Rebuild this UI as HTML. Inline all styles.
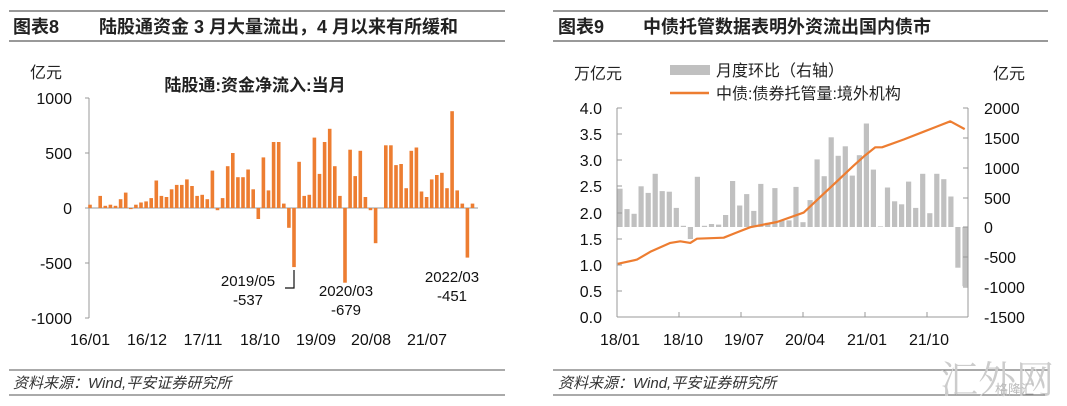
<!DOCTYPE html>
<html><head><meta charset="utf-8"><style>
body{margin:0;background:#fff;width:1067px;height:406px;overflow:hidden}
svg{display:block;font-family:"Liberation Sans","Noto Sans CJK SC",sans-serif}
</style></head><body>
<svg id="s" width="1067" height="406" viewBox="0 0 1067 406">
<!-- Left header -->
<line x1="9" y1="11" x2="505" y2="11" stroke="#333" stroke-width="1"/>
<line x1="9" y1="41" x2="505" y2="41" stroke="#333" stroke-width="1"/>
<text x="13" y="33" font-size="18" font-weight="bold" fill="#222">图表8</text>
<text x="99" y="33" font-size="18" font-weight="bold" fill="#222">陆股通资金 3 月大量流出，4 月以来有所缓和</text>
<line x1="9" y1="370" x2="505" y2="370" stroke="#555" stroke-width="1"/>
<line x1="9" y1="395" x2="505" y2="395" stroke="#555" stroke-width="1"/>
<text x="13" y="388" font-size="15" font-style="italic" fill="#333">资料来源：Wind,平安证券研究所</text>
<!-- Right header -->
<line x1="553" y1="11" x2="1048" y2="11" stroke="#333" stroke-width="1"/>
<line x1="553" y1="41" x2="1048" y2="41" stroke="#333" stroke-width="1"/>
<text x="558" y="33" font-size="18" font-weight="bold" fill="#222">图表9</text>
<text x="643" y="33" font-size="18" font-weight="bold" fill="#222">中债托管数据表明外资流出国内债市</text>
<line x1="553" y1="370" x2="1048" y2="370" stroke="#555" stroke-width="1"/>
<line x1="553" y1="395" x2="1048" y2="395" stroke="#555" stroke-width="1"/>
<text x="558" y="388" font-size="15" font-style="italic" fill="#333">资料来源：Wind,平安证券研究所</text>
<text x="940" y="393" font-size="38" fill="#ccc" font-family="Liberation Serif, Noto Serif CJK SC, serif">汇外网</text>
<text x="995" y="394" font-size="13" fill="#bbb">格隆汇</text>

<!-- Left chart -->
<text x="30" y="78" font-size="16" fill="#222">亿元</text>
<text x="255" y="91" font-size="17" font-weight="bold" fill="#222" text-anchor="middle">陆股通:资金净流入:当月</text>
<g font-size="16" fill="#111" text-anchor="end">
<text x="72" y="104">1000</text><text x="72" y="159">500</text><text x="72" y="214">0</text><text x="72" y="269">-500</text><text x="72" y="324">-1000</text></g>
<line x1="89" y1="98" x2="89" y2="318" stroke="#999"/>
<g stroke="#999"><line x1="85" y1="98" x2="89" y2="98"/><line x1="85" y1="153" x2="89" y2="153"/><line x1="85" y1="208" x2="89" y2="208"/><line x1="85" y1="263" x2="89" y2="263"/><line x1="85" y1="318" x2="89" y2="318"/></g>
<line x1="89" y1="208" x2="478" y2="208" stroke="#999"/>
<g id="lb" fill="#ED7D31"></g>
<g font-size="16" fill="#111" text-anchor="middle">
<text x="90" y="345">16/01</text><text x="147" y="345">16/12</text><text x="203" y="345">17/11</text><text x="260" y="345">18/10</text><text x="316" y="345">19/09</text><text x="371" y="345">20/08</text><text x="427" y="345">21/07</text></g>
<g font-size="15" fill="#111" text-anchor="middle">
<text x="248" y="286">2019/05</text><text x="248" y="305">-537</text>
<text x="346" y="296">2020/03</text><text x="346" y="315">-679</text>
<text x="452" y="282">2022/03</text><text x="452" y="301">-451</text></g>
<polyline points="294,270 294,288 285,288" fill="none" stroke="#111" stroke-width="1.2"/>

<!-- Right chart -->
<text x="574" y="79" font-size="16" fill="#222">万亿元</text>
<text x="993" y="79" font-size="16" fill="#222">亿元</text>
<rect x="670" y="65" width="40" height="10" fill="#c0c0c0"/>
<text x="716" y="76" font-size="16" fill="#222">月度环比（右轴）</text>
<line x1="670" y1="93" x2="709" y2="93" stroke="#ED7D31" stroke-width="2.5"/>
<text x="716" y="99" font-size="16" fill="#222">中债:债券托管量:境外机构</text>
<g font-size="16" fill="#111" text-anchor="end">
<text x="602" y="114">4.0</text><text x="602" y="140">3.5</text><text x="602" y="166">3.0</text><text x="602" y="192">2.5</text><text x="602" y="219">2.0</text><text x="602" y="245">1.5</text><text x="602" y="271">1.0</text><text x="602" y="297">0.5</text><text x="602" y="323">0.0</text></g>
<g font-size="16" fill="#111">
<text x="984" y="114">2000</text><text x="984" y="144">1500</text><text x="984" y="174">1000</text><text x="984" y="204">500</text><text x="984" y="233">0</text><text x="984" y="263">-500</text><text x="984" y="293">-1000</text><text x="984" y="323">-1500</text></g>
<g id="rb" fill="#c0c0c0"></g>
<g stroke="#999">
<line x1="617" y1="108" x2="617" y2="317"/><line x1="617" y1="317" x2="968" y2="317"/><line x1="968" y1="108" x2="968" y2="317"/>
<line x1="617" y1="108" x2="622" y2="108"/><line x1="617" y1="134" x2="622" y2="134"/><line x1="617" y1="160" x2="622" y2="160"/><line x1="617" y1="186" x2="622" y2="186"/><line x1="617" y1="213" x2="622" y2="213"/><line x1="617" y1="239" x2="622" y2="239"/><line x1="617" y1="265" x2="622" y2="265"/><line x1="617" y1="291" x2="622" y2="291"/>
<line x1="963" y1="108" x2="968" y2="108"/><line x1="963" y1="138" x2="968" y2="138"/><line x1="963" y1="168" x2="968" y2="168"/><line x1="963" y1="198" x2="968" y2="198"/><line x1="963" y1="227" x2="968" y2="227"/><line x1="963" y1="257" x2="968" y2="257"/><line x1="963" y1="287" x2="968" y2="287"/>
<line x1="679" y1="312" x2="679" y2="317"/><line x1="741" y1="312" x2="741" y2="317"/><line x1="803" y1="312" x2="803" y2="317"/><line x1="865" y1="312" x2="865" y2="317"/><line x1="927" y1="312" x2="927" y2="317"/></g>
<polyline id="rl" fill="none" stroke="#ED7D31" stroke-width="2.2" stroke-linejoin="round"/>
<g font-size="16" fill="#111" text-anchor="middle">
<text x="620" y="345">18/01</text><text x="683" y="345">18/10</text><text x="744" y="345">19/07</text><text x="805" y="345">20/04</text><text x="867" y="345">21/01</text><text x="929" y="345">21/10</text></g>
</svg>
<script>
var L=[30,0,110,20,30,20,80,140,-10,30,50,60,90,250,110,100,170,210,210,260,200,110,120,80,340,-20,90,380,500,280,280,350,170,-100,460,160,600,600,40,-180,-537,420,110,120,640,310,600,720,380,110,-679,530,290,520,100,-20,-320,0,570,570,390,400,180,520,550,150,100,260,300,320,180,880,160,40,-451,40];
var ns="http://www.w3.org/2000/svg",h='';
L.forEach(function(v,i){var x=90+i*5.1-1.8,y=v>=0?208-v*0.11:208,hh=Math.abs(v)*0.11;h+='<rect x="'+x.toFixed(1)+'" y="'+y.toFixed(1)+'" width="3.6" height="'+hh.toFixed(1)+'"/>';});
document.getElementById('lb').innerHTML=h;
var R=[640,300,220,680,570,890,600,590,320,20,-200,840,20,50,40,200,770,360,550,270,720,70,650,110,110,670,80,450,1130,850,1500,1190,1350,860,1200,1730,960,10,660,430,380,760,320,890,230,890,800,510,-680,-990];
h='';R.forEach(function(v,i){var x=620+i*7.04-2.6,y=v>=0?227-v*0.0598:227,hh=Math.abs(v)*0.0598;h+='<rect x="'+x.toFixed(1)+'" y="'+y.toFixed(1)+'" width="5.2" height="'+hh.toFixed(1)+'"/>';});
document.getElementById('rb').innerHTML=h;
var P=[[242,1.02],[300,1.1],[340,1.25],[400,1.42],[430,1.45],[460,1.42],[480,1.5],[560,1.52],[600,1.62],[640,1.72],[720,1.82],[800,2.0],[850,2.3],[900,2.6],[950,2.9],[985,3.1],[1015,3.25],[1035,3.25],[1100,3.4],[1160,3.55],[1200,3.65],[1240,3.75],[1283,3.6]];
document.getElementById('rl').setAttribute('points',P.map(function(p){return (537+p[0]/3).toFixed(1)+','+(317-p[1]*52.2).toFixed(1)}).join(' '));
</script>
</body></html>
